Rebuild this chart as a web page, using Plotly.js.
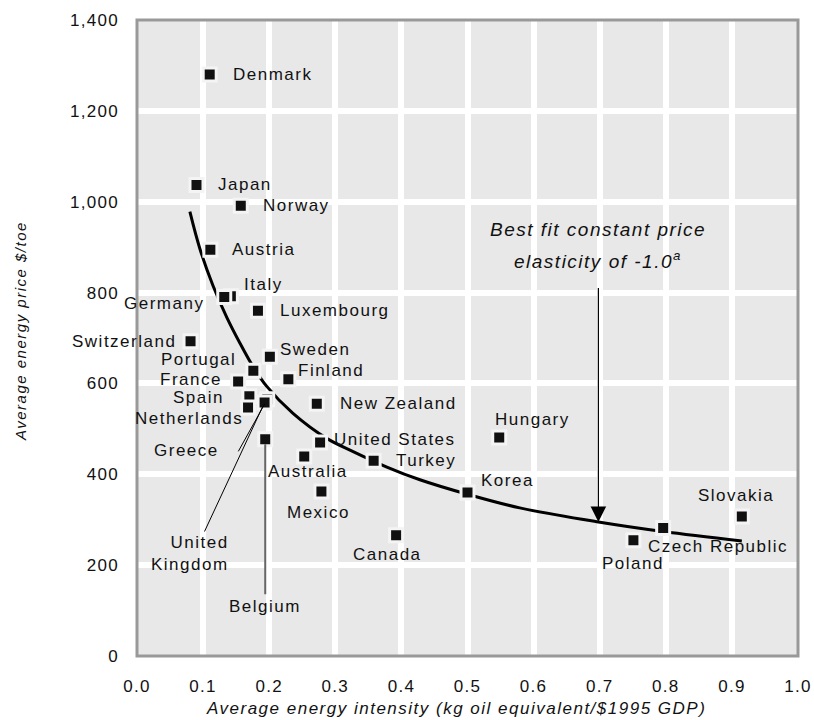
<!DOCTYPE html>
<html>
<head>
<meta charset="utf-8">
<script src="https://cdn.plot.ly/plotly-3.0.1.min.js"></script>
<style>
  body { margin: 0; background: #fff; }
  .annotation-text { letter-spacing: 1.5px; }
  .xtick text, .ytick text { letter-spacing: 1.3px; }
</style>
</head>
<body>
<div id="chart" style="width:814px;height:720px;"></div>
<script>
// ---- data ----
const countries = ["Denmark","Japan","Norway","Austria","Italy","Germany","Luxembourg","Switzerland",
  "Sweden","Portugal","France","Finland","Spain","Netherlands","Greece","United Kingdom","Belgium",
  "New Zealand","United States","Australia","Mexico","Turkey","Hungary","Korea","Canada","Poland",
  "Czech Republic","Slovakia"];
const intensity = [0.110,0.090,0.157,0.111,0.142,0.132,0.183,0.081,
  0.201,0.176,0.153,0.229,0.170,0.168,0.197,0.193,0.194,
  0.272,0.277,0.253,0.279,0.358,0.548,0.500,0.392,0.751,
  0.796,0.915];
const price = [1280,1037,991,894,792,790,760,693,
  659,628,604,609,572,547,565,558,477,
  555,470,439,362,430,481,360,266,255,
  282,307];
// best-fit curve
const fitX = [0.080,0.095,0.115,0.136,0.156,0.176,0.196,0.236,0.287,0.327,0.378,0.428,0.500,0.579,0.698,0.796,0.915];
const fitY = [978,897,815,745,688,636,594,534,479,450,416,388,356,326,295,274,253];
const xTicks = [0,0.1,0.2,0.3,0.4,0.5,0.6,0.7,0.8,0.9,1.0];
const yTicks = [0,200,400,600,800,1000,1200,1400];

// ---- label placement (screen pixel offsets from the marker; dy positive = down) ----
const labelPlacement = {
  "Denmark":["left",21,0], "Japan":["left",20,0], "Norway":["left",20,0], "Austria":["left",20,0],
  "Italy":["left",11,-12], "Germany":["right",-18,6], "Luxembourg":["left",20,0],
  "Switzerland":["right",-13,0], "Sweden":["left",8,-7], "Portugal":["right",-15,-11],
  "France":["right",-14,-2], "Finland":["left",8,-9], "Spain":["right",-23,1],
  "Netherlands":["right",-3,11], "Greece":["right",-46,51], "United Kingdom":["right",-34,151],
  "Belgium":["center",0,167], "New Zealand":["left",21,0], "United States":["left",12,-3],
  "Australia":["center",4,15], "Mexico":["center",-3,21], "Turkey":["left",20,0],
  "Hungary":["center",33,-18], "Korea":["left",11,-12], "Canada":["center",-9,19],
  "Poland":["center",0,23], "Czech Republic":["left",-17,19], "Slovakia":["center",-6,-21]
};
const labelText = {"United Kingdom":"United<br>Kingdom"};
// leader lines: tail offset from the marker in pixels
const leaders = {
  "Greece":{ax:-30, ay:54, color:"#000", width:1},
  "United Kingdom":{ax:-61, ay:131, color:"#000", width:1},
  "Belgium":{ax:0, ay:157, color:"#666", width:2}
};

const fontFam = '"Liberation Sans", Arial, Helvetica, sans-serif';
const annotations = [];
countries.forEach((c, i) => {
  const p = labelPlacement[c];
  annotations.push({
    x: intensity[i], y: price[i], xref:'x', yref:'y',
    text: labelText[c] || c, showarrow:false,
    xanchor: p[0], yanchor:'middle', align: p[0]==='center' ? 'center' : p[0],
    xshift: p[1], yshift: -p[2],
    font:{family:fontFam, size:17, color:'#111'}
  });
  if (leaders[c]) {
    const L = leaders[c];
    annotations.push({
      x: intensity[i], y: price[i], xref:'x', yref:'y', text:' ',
      showarrow:true, arrowhead:0, arrowwidth:L.width, arrowcolor:L.color,
      ax:L.ax, ay:L.ay, standoff:5, font:{size:1}
    });
  }
});
// best-fit arrow + text (anchored to the traced curve point at x≈0.7)
const k = 14;
annotations.push({
  x: fitX[k], y: fitY[k], xref:'x', yref:'y', text:' ',
  showarrow:true, arrowhead:2, arrowsize:2.6, arrowwidth:1.2, arrowcolor:'#000',
  ax:0, ay:-236, standoff:0, font:{size:1}
});
annotations.push({
  x: fitX[k], y: fitY[k], xref:'x', yref:'y',
  text:'<i>Best fit constant price</i>',
  showarrow:false, xanchor:'center', yanchor:'middle', yshift:292,
  font:{family:fontFam, size:19, color:'#111'}
});
annotations.push({
  x: fitX[k], y: fitY[k], xref:'x', yref:'y',
  text:'<i>elasticity of -1.0</i><sup><i>a</i></sup>',
  showarrow:false, xanchor:'center', yanchor:'middle', yshift:262,
  font:{family:fontFam, size:19, color:'#111'}
});
// axis titles
annotations.push({
  xref:'paper', yref:'paper', x:0.5, y:0, xshift:-12, yshift:-52, yanchor:'middle',
  text:'<i>Average energy intensity (kg oil equivalent/$1995 GDP)</i>', showarrow:false,
  font:{family:fontFam, size:17, color:'#111'}
});
annotations.push({
  xref:'paper', yref:'paper', x:0, y:0.511, xshift:-117, xanchor:'center', yanchor:'middle',
  textangle:-90, text:'<i>Average energy price $/toe</i>', showarrow:false,
  font:{family:fontFam, size:15, color:'#111'}
});

const traces = [
  { x: fitX, y: fitY, mode:'lines', line:{color:'#000', width:3, shape:'spline', smoothing:1},
    hoverinfo:'skip', showlegend:false },
  { x: intensity, y: price, text: countries, mode:'markers',
    marker:{symbol:'square', size:13, color:'#111', line:{color:'#f4f4f4', width:3}},
    showlegend:false }
];

const layout = {
  width:814, height:720,
  margin:{l:137, r:16, t:20, b:64},
  paper_bgcolor:'#ffffff', plot_bgcolor:'#e8e8e8',
  font:{family:fontFam, size:17, color:'#111'},
  xaxis:{range:[0,1], tickvals:xTicks, tickformat:'.1f', showgrid:true, gridcolor:'#ffffff', gridwidth:6,
         zeroline:false, showline:false, ticks:'', ticklabelstandoff:18,
         tickfont:{family:fontFam, size:17, color:'#111'}},
  yaxis:{range:[0,1400], tickvals:yTicks, tickformat:',', showgrid:true, gridcolor:'#ffffff', gridwidth:6,
         zeroline:false, showline:false, ticks:'', ticklabelstandoff:17,
         tickfont:{family:fontFam, size:17, color:'#111'}},
  shapes:[{type:'rect', xref:'paper', yref:'paper', x0:0, x1:1, y0:0, y1:1,
           line:{color:'#999', width:3}, layer:'above'}],
  annotations: annotations,
  showlegend:false
};

Plotly.newPlot('chart', traces, layout, {staticPlot:true, displayModeBar:false});
</script>
</body>
</html>
